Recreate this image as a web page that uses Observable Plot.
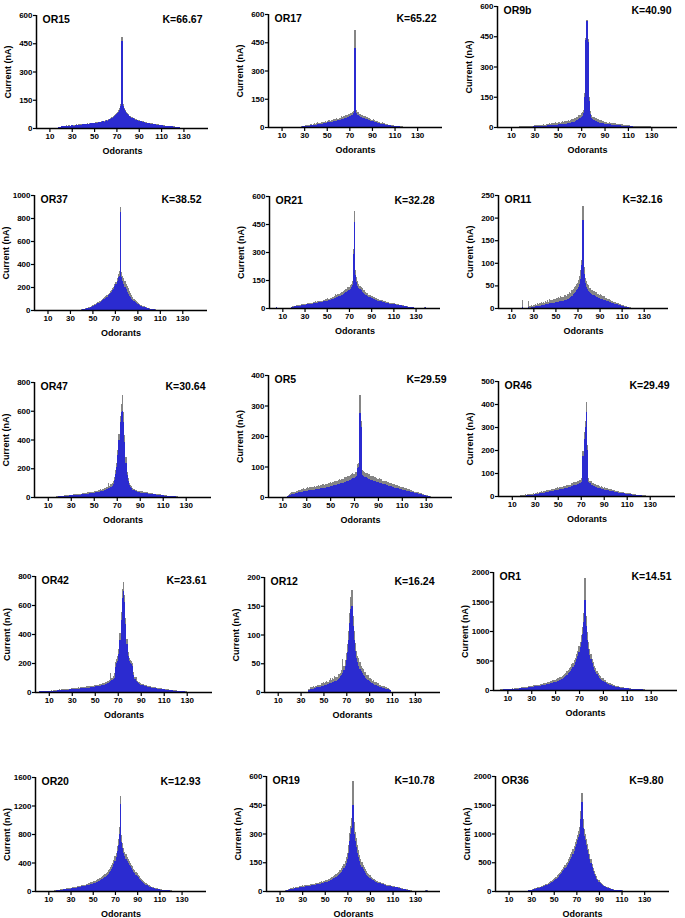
<!DOCTYPE html>
<html><head><meta charset="utf-8">
<script src="https://cdn.jsdelivr.net/npm/d3@7"></script>
<script src="https://cdn.jsdelivr.net/npm/@observablehq/plot@0.6"></script>
<style>
html,body{margin:0;padding:0;background:#fff;overflow:hidden}
#root{position:relative;width:685px;height:918px;overflow:hidden}
</style></head><body><div id="root"></div>
<script>
// ---------- labels ----------
const receptors = ["OR15","OR17","OR9b","OR37","OR21","OR11","OR47","OR5","OR46","OR42","OR12","OR1","OR20","OR19","OR36"];
const kValues = ["66.67","65.22","40.90","38.52","32.28","32.16","30.64","29.59","29.49","23.61","16.24","14.51","12.93","10.78","9.80"];
const yMax = [600,600,600,1000,600,250,800,400,500,800,200,2000,1600,600,2000];
const yTicks = [
  [0,150,300,450,600],[0,150,300,450,600],[0,150,300,450,600],
  [0,200,400,600,800,1000],[0,150,300,450,600],[0,50,100,150,200,250],
  [0,200,400,600,800],[0,100,200,300,400],[0,100,200,300,400,500],
  [0,200,400,600,800],[0,50,100,150,200],[0,500,1000,1500,2000],
  [0,400,800,1200,1600],[0,150,300,450,600],[0,500,1000,1500,2000]
];
const xTicks = [10,30,50,70,90,110,130];

// ---------- data: mean response (nA) and SEM per odorant rank, starting at odorant "start" ----------
const or15Start = 18;
const or15Mean = [3,4,6,8,10,9,11,12,11,12, 13,12,14,14,13,15,16,15,17,16, 18,17,19,20,19,21,22,21,23,24, 24,26,25,27,28,27,30,31,30,33, 35,34,37,40,39,43,46,49,53,57, 62,67,73,80,87,97,116, 460, 118,101,90,81,74,67,62,58,54,51, 48,45,43,40,39,36,35,33,32,30, 29,28,26,26,24,23,22,21,20,19, 18,17,17,15,15,14,13,13,12,11, 11,10,9,9,8,7,7,6,5,4,3];
const or15Sem = [1,1,1,2,2,1,2,2,1,2, 2,1,2,3,2,2,3,2,2,3, 2,3,2,2,3,2,3,2,3,2, 3,2,3,3,2,3,3,2,3,3, 3,4,3,4,3,4,4,5,4,5, 5,5,6,6,7,7,9, 25, 8,7,6,6,5,5,4,5,4,4, 4,3,4,3,3,4,3,3,3,2, 3,3,2,3,2,2,3,2,2,2, 2,2,2,1,2,2,1,2,1,1, 1,1,1,1,1,1,1,1,1,1,1];

const or17Start = 28;
const or17Mean = [2,3,4,4,5,6,6,7,8,9, 10,11,12,13,14,15,16,17,18,19, 20,21,22,24,25,26,27,28,30,31, 33,34,36,37,39,41,43,45,47,49, 51,54,56,59,62,66,75, 420, 72,66,62,58,55,52,49,46,44,42, 40,38,36,34,32,30,28,26,25,23, 21,20,18,17,15,14,13,11,10,9, 8,7,6,6,5,4,4,3,3,2,2,2,1];
const or17Sem = [2,3,2,4,3,5,3,4,6,4, 5,8,4,6,10,5,7,12,6,9, 8,11,6,9,13,7,10,8,12,9, 10,14,8,12,9,15,11,13,10,16, 12,15,11,14,13,16,12, 95, 18,14,16,12,15,11,13,10,12,9, 11,8,10,9,7,10,8,6,9,7, 6,8,5,7,5,6,4,5,4,3, 4,3,3,4,2,3,2,3,2,2,1,2,1];

const or9bStart = 17;
const or9bMean = [1,1,2,1,2,2,1,2,2,2, 2,2,3,4,4,5,5,5,6,6, 6,7,7,7,8,8,9,9,10,10, 11,11,12,12,13,13,14,14,15,16, 17,18,19,20,22,23,25,27,30,33, 36,40,44,48,55,68,150,430, 525, 420,130,62,45,38,34,30,28,26,24, 22,21,19,18,17,16,15,14,13,13, 12,12,11,10,10,9,9,8,8,7, 7,6,6,5,5,4,4,3,3,2, 2,2,2,1,2,1,1,2,1,1,1,1,1,1,1];
const or9bSem = [3,4,2,5,3,4,3,5,4,3, 4,5,3,5,4,6,5,7,4,6, 6,8,5,9,7,6,10,7,8,11, 9,12,8,10,13,9,11,14,10,12, 13,11,15,12,14,16,13,17,15,18, 16,19,17,20,18,15,20,10, 8, 15,20,18,16,14,17,13,15,12,14, 11,13,10,12,9,11,10,8,10,9, 8,9,7,8,6,8,7,5,7,6, 5,6,4,5,4,5,3,4,3,4, 3,4,3,4,2,3,4,2,3,3,2,3,2,2,1];

const or37Start = 40;
const or37Mean = [3,5,7,9,11,14,17,20,24,28, 33,37,42,47,52,58,64,70,77,84, 92,100,108,117,127,137,148,160,172,186, 205,225,250,285,300, 850, 290,255,225,200,180,160,142,126,112,100, 88,78,69,61,54,48,42,37,33,29, 25,22,19,16,14,12,10,8,7,5, 4,3,2];
const or37Sem = [2,3,3,4,3,5,4,6,5,6, 7,6,8,7,9,8,10,9,11,10, 12,11,13,12,15,14,16,15,18,17, 20,22,25,30,35, 45, 40,45,50,55,48,52,45,40,35,30, 25,22,18,15,14,12,10,9,8,7, 6,5,5,4,4,3,3,2,2,2, 1,1,1];

const or21Start = 5;
const or21Mean = [3,0,0,0,0,0,0,0,0,0,0,0,0, 4,6,8,9,10,11,12,12,13,14, 15,16,17,18,19,20,21,22,23,24, 25,26,27,28,29,30,31,32,33,35, 36,37,39,40,42,44,46,48,50,52, 55,57,60,63,66,69,72,76,80,84, 88,93,98,104,112,125,290, 460, 175,140,120,108,100,94,88,82,77,72, 68,64,60,57,54,51,48,46,44,42, 40,38,37,35,34,32,31,29,28,26, 25,24,23,22,21,20,19,18,17,16, 15,14,13,12,11,10,9,8,7,6,5,4,3, 0,0,0,0,0,0,0,0,0,2,3,0];
const or21Sem = [1,0,0,0,0,0,0,0,0,0,0,0,0, 2,3,2,4,3,3,5,3,4,6, 4,5,3,6,4,7,5,4,6,5, 6,5,8,6,7,9,6,8,7,10, 8,10,9,12,8,11,10,13,9,12, 22,11,14,10,13,15,12,16,14,17, 15,18,16,20,18,22,25, 60, 30,25,22,20,18,16,19,15,17,14, 13,15,12,14,11,13,10,12,10,11, 9,10,8,9,7,8,7,8,6,7, 6,5,6,5,4,5,4,4,3,4, 3,3,2,3,2,2,2,2,1,1,1,1,1, 0,0,0,0,0,0,0,0,0,1,1,0];

const or11Start = 20;
const or11Mean = [2,0,0,0,0,0,2,1,2,2, 3,3,4,4,5,5,5,6,6,7, 7,8,8,9,9,10,10,11,11,12, 13,13,14,14,15,15,16,16,17,18, 18,19,21,23,25,27,30,33,36,39, 42,46,52,65,95, 195, 75,55,46,41,38,35,33,31,29,28, 26,25,24,23,22,21,20,19,18,17, 16,15,15,14,13,12,11,10,9,8, 8,7,6,6,5,4,4,3,3,2,2,1,1];
const or11Sem = [16,0,0,0,0,0,13,3,4,3, 3,4,5,3,6,4,5,7,4,6, 5,7,6,8,5,9,7,6,10,8, 7,9,8,10,7,11,9,8,12,10, 9,11,10,12,9,13,11,14,12,15, 13,15,18,20,12, 30, 15,12,14,11,13,10,12,9,11,10, 9,10,8,9,7,9,8,7,8,6, 7,6,5,6,5,4,5,4,4,3, 3,3,2,3,2,2,2,1,2,1,1,1,1];

const or47Start = 18;
const or47Mean = [3,4,5,6,6,7,8,8,9,10, 10,11,12,12,13,14,14,15,16,17, 17,18,19,20,21,22,23,24,25,26, 27,28,29,31,32,34,36,38,40,42, 44,47,50,54,58,62,66,72,80,92, 115,160,210,290,400,520,590, 600, 520,380,240,150,110,85,70,60,52,46, 42,39,37,35,33,31,30,29,28,27, 26,25,24,23,22,21,20,19,18,17, 16,15,14,13,12,11,10,9,8,8, 7,6,6,5,4,4,3,3,2,2];
const or47Sem = [1,2,2,3,2,3,2,3,4,3, 4,3,5,4,6,4,5,7,5,6, 6,5,7,6,8,7,6,9,7,8, 8,10,7,9,11,8,12,9,13,10, 12,14,11,15,13,35,14,18,16,20, 22,25,30,35,40,45,60, 110, 70,50,35,25,20,15,12,14,10,12, 9,11,8,10,7,9,14,8,7,8, 6,7,5,6,5,6,4,5,4,5, 4,3,4,3,3,2,3,2,2,2, 2,2,1,2,1,1,1,1,1,1];

const or5Start = 14;
const or5Mean = [2,4,6,8,9,10,11,12,13,14, 15,16,17,18,19,20,20,21,22,22, 23,23,24,24,25,26,26,27,28,29, 29,30,31,32,33,34,35,36,37,38, 39,40,41,42,43,45,46,47,49,50, 52,53,55,57,59,61,63,65,68,95,100, 275, 230,72,68,66,64,62,60,58,57,55, 54,52,51,50,48,47,46,45,43,42, 41,40,39,37,36,35,34,32,31,30, 29,28,27,26,25,24,23,22,21,20, 19,18,17,16,15,14,13,12,11,10, 9,8,7,6,5,4,3,2,1];
const or5Sem = [2,3,4,5,6,5,7,6,8,7, 8,7,9,8,10,7,9,11,8,10, 9,11,8,12,9,10,13,9,11,10, 12,10,13,11,9,12,14,10,13,11, 12,14,11,13,15,12,14,13,16,14, 13,15,14,16,15,17,14,16,15,12,10, 60, 20,18,16,17,15,18,14,16,13,15, 14,12,15,13,11,14,12,13,10,12, 11,13,10,12,9,11,10,9,11,8, 10,8,9,7,9,8,6,8,7,6, 7,5,6,5,6,4,5,4,5,3, 4,3,3,2,2,2,1,1,1];

const or46Start = 18;
const or46Mean = [1,1,2,2,2,3,3,3,4,4, 5,6,7,8,9,10,11,12,13,14, 15,16,17,18,19,20,21,22,23,24, 25,26,27,28,29,30,31,32,33,34, 35,37,38,40,42,44,46,48,50,52, 54,56,58,62,175,250,300, 365, 200,62,55,50,47,44,42,40,38,36, 34,33,31,30,29,28,26,25,24,23, 22,21,20,19,18,17,16,15,14,13, 12,12,11,10,9,9,8,7,7,6, 6,5,5,4,4,3,3,3,2,2,2,1,1,1,1];
const or46Sem = [4,5,3,4,5,3,4,6,3,5, 4,6,3,5,7,4,6,5,8,5, 7,5,8,6,9,7,6,10,7,8, 9,7,10,8,11,9,8,12,9,10, 11,9,12,10,13,11,14,12,10,13, 12,14,13,15,20,30,25, 45, 22,15,12,14,11,13,10,12,9,11, 10,8,11,9,7,10,8,9,7,8, 7,8,6,7,5,6,5,6,4,5, 4,5,4,3,4,3,3,4,2,3, 3,2,3,2,2,3,2,2,1,2,1,1,1,1,1];

const or42Start = 2;
const or42Mean = [4,5,4,5,6,5,6,6,7,7, 8,8,9,9,10,10,11,12,12,13, 14,14,15,16,16,17,18,18,19,20, 21,21,22,23,24,24,25,26,27,28, 28,29,30,31,32,33,34,35,36,38, 39,40,42,44,46,48,50,53,56,60, 64,68,74,80,88,100,175,200,215,260, 360,500,650, 700, 620,470,330,250,215,200,190,180,120,90, 75,66,60,55,51,48,45,42,40,38, 36,34,32,30,29,28,27,26,25,24, 23,22,21,20,19,18,17,16,15,14, 13,12,11,10,9,9,8,7,6,5, 5,4,4,3,3,2,2,1,1,1];
const or42Sem = [3,2,4,2,3,2,4,3,2,3, 3,2,4,3,5,3,4,6,3,5, 4,6,4,5,8,5,6,4,7,5, 6,5,7,6,8,6,7,9,6,8, 7,9,8,10,7,11,9,8,12,10, 11,9,13,10,12,14,11,15,13,16, 15,18,60,20,25,30,35,25,30,40, 45,55,60, 60, 50,40,35,25,20,18,22,20,15,12, 30,10,9,12,8,10,7,9,8,7, 8,6,7,5,6,7,5,6,5,4, 5,4,5,3,4,5,3,4,3,3, 4,3,2,3,2,3,2,2,2,1, 2,1,2,1,1,1,1,1,1,1];

const or12Start = 37;
const or12Mean = [3,4,5,6,6,7,7,8,8,9, 9,10,11,11,12,13,13,14,15,15, 16,17,18,19,20,21,23,25,27,30, 33,38,45,55,70,90,120,145, 150, 115,90,72,60,52,45,40,36,33,30, 28,25,23,21,19,18,16,15,14,13, 12,11,10,9,9,8,7,7,6,6,5,5,4,3];
const or12Sem = [3,2,4,3,5,2,4,3,5,4, 3,5,4,6,3,5,7,4,6,9, 5,7,4,8,6,5,9,7,6,8, 25,8,10,12,14,16,18,20, 28, 18,16,14,12,10,15,12,10,8,10, 7,9,6,8,5,7,6,5,7,4, 5,4,6,3,4,3,4,3,2,3,2,2,2,1];

const or1Start = 3;
const or1Mean = [5,6,7,8,9,10,11,12,13,14, 15,16,17,18,20,22,24,26,28,30, 32,34,36,39,42,45,48,52,55,58, 60,63,66,69,72,76,80,84,88,92, 97,102,107,112,118,124,130,137,144,152, 160,170,180,192,205,220,238,258,280,305, 330,360,395,430,470,520,580,650,730,820, 950,1150, 1520, 1080,850,700,600,520,450,390,340,300,265, 235,210,190,170,155,140,128,117,107,98, 90,83,76,70,64,59,54,50,46,42, 39,36,33,30,28,26,24,22,20,18, 17,15,14,13,12,11,10,9,8,7, 6,6,5,5,4,4,3,3,2,2,1];
const or1Sem = [3,4,5,4,6,5,7,6,8,7, 8,10,7,11,9,12,10,13,11,14, 12,15,13,16,14,18,15,19,17,20, 18,22,19,24,20,26,22,28,24,30, 26,32,28,35,30,38,33,40,36,44, 40,48,43,52,46,56,50,62,55,68, 60,75,66,82,72,90,80,100,90,110, 120,150, 380, 180,140,120,100,90,75,80,60,70,50, 55,42,48,35,40,30,34,26,28,22, 24,18,20,15,17,13,14,11,12,10, 9,10,8,9,7,8,6,7,5,6, 5,4,5,3,4,3,3,2,3,2, 2,2,1,2,1,1,1,1,1,1,1];

const or20Start = 15;
const or20Mean = [3,5,8,10,13,15,17,19,21,23, 25,27,29,31,33,35,37,40,43,46, 49,52,55,58,61,64,67,70,74,78, 82,86,90,95,100,105,111,117,124,131, 138,146,155,165,175,186,198,212,228,245, 265,285,310,340,375,420,480,560,650,800, 1220, 690,600,540,490,450,420,395,370,345,320, 295,270,250,230,210,190,172,155,140,126, 113,101,90,80,71,63,56,50,45,40, 36,32,29,26,23,20,18,16,14,12, 11,10,9,8,7,6,5,4,4,3,2,2];
const or20Sem = [2,3,4,5,4,6,5,7,6,8, 7,9,8,10,9,11,10,12,11,14, 12,15,13,16,14,18,15,19,17,21, 18,22,20,25,22,27,24,30,26,32, 28,35,30,38,33,42,36,46,40,50, 45,55,50,60,55,65,60,70,80,100, 110, 90,80,70,60,65,55,60,50,55,45, 50,42,46,38,42,34,37,30,33,26, 28,22,24,18,20,15,16,12,13,10, 10,8,9,7,7,6,5,5,4,4, 3,3,3,2,2,2,2,1,1,1,1,1];

const or19Start = 15;
const or19Mean = [2,3,4,6,8,10,12,13,14,15, 16,17,18,19,20,21,22,23,24,25, 26,27,28,29,30,31,32,33,34,35, 37,38,40,41,43,45,47,49,51,54, 57,60,63,66,70,74,78,83,88,94, 100,108,118,130,145,165,200,260,300,330, 450, 300,260,230,200,175,155,138,125,113,103, 94,86,79,73,68,63,59,55,52,49, 46,44,42,40,38,36,34,32,30,28, 27,26,25,24,23,22,21,20,19,18, 16,15,13,12,10,9,7,6,4,3, 2,2,1,1,0,0,0,0,0,0,0,0,0,2,3,2];
const or19Sem = [2,3,2,4,3,5,4,6,3,5, 4,6,5,7,4,8,5,6,9,5, 7,6,8,5,9,7,6,10,7,8, 9,7,10,8,11,9,12,10,13,11, 12,15,11,14,13,16,18,14,20,17, 22,20,25,28,30,35,40,45,40,50, 125, 60,50,45,40,38,35,30,28,25,22, 20,18,16,15,13,12,11,10,9,9, 8,9,7,8,6,7,6,5,6,5, 5,4,5,4,4,3,4,3,3,3, 3,2,3,2,2,2,1,2,1,1, 1,1,1,1,0,0,0,0,0,0,0,0,0,1,1,1];

const or36Start = 28;
const or36Mean = [10,15,20,25,30,35,40,45,50,56, 62,68,75,82,90,98,107,117,128,140, 152,165,180,195,212,230,250,270,292,315, 340,365,392,420,450,485,520,560,600,650, 700,760,820,880,940,1000,1250, 1550, 1100,960,880,800,720,640,560,480,410,350, 300,255,215,185,160,140,122,106,92,80, 70,61,53,46,40,35,30,26,22,19, 16,14,12,10,9,8,7,6,5,4,3,2];
const or36Sem = [5,8,6,10,8,12,9,14,11,15, 13,18,15,20,17,24,20,27,23,30, 27,34,30,38,34,42,38,48,42,54, 48,60,52,66,58,72,64,80,70,88, 78,95,85,100,110,120,140, 160, 150,120,110,100,95,85,80,70,60,55, 48,42,38,32,28,25,22,19,16,14, 12,11,9,8,7,6,5,5,4,3, 3,3,2,2,2,1,1,1,1,1,1,1];

const series = [
  [or15Start, or15Mean, or15Sem], [or17Start, or17Mean, or17Sem], [or9bStart, or9bMean, or9bSem],
  [or37Start, or37Mean, or37Sem], [or21Start, or21Mean, or21Sem], [or11Start, or11Mean, or11Sem],
  [or47Start, or47Mean, or47Sem], [or5Start, or5Mean, or5Sem], [or46Start, or46Mean, or46Sem],
  [or42Start, or42Mean, or42Sem], [or12Start, or12Mean, or12Sem], [or1Start, or1Mean, or1Sem],
  [or20Start, or20Mean, or20Sem], [or19Start, or19Mean, or19Sem], [or36Start, or36Mean, or36Sem]
];

// ---------- layout (page pixels): y-axis x, x-axis end, frame top, frame bottom ----------
const layout = [
  [36,208,15,128],[268,442,14,127],[497,677,6,127],
  [34,207,195,310],[269,440,196,308],[498,668,195,308],
  [34,211,382,497],[268,452,375,497],[498,675,381,496],
  [35,212,576,692],[264,440,577,692],[493,677,572,690],
  [35,206,777,891],[266,440,776,891],[495,669,776,891]
];

const BLUE = "#2b2bd0", GRAY = "#858585";
const M = {left: 40, right: 6, top: 8, bottom: 28};
const root = document.getElementById("root");

receptors.forEach((name, i) => {
  const [start, mean, sem] = series[i];
  const rows = mean.map((v, j) => ({x: start + j, v, hi: v + (sem[j] || 0)}));
  const [ax, aend, top, bottom] = layout[i];
  const w = aend - ax, h = bottom - top;
  const chart = Plot.plot({
    width: M.left + w + M.right,
    height: M.top + h + M.bottom,
    marginLeft: M.left, marginRight: M.right, marginTop: M.top, marginBottom: M.bottom,
    style: {fontFamily: "'Liberation Sans', Arial, sans-serif", fontSize: "8px", fontWeight: "bold", background: "transparent", color: "#000", overflow: "visible"},
    x: {domain: [-2, 152]},
    y: {domain: [0, yMax[i]]},
    marks: [
      Plot.rect(rows, {x1: r => r.x - 0.5, x2: r => r.x + 0.5, y1: 0, y2: "hi", fill: GRAY, inset: 0, shapeRendering: "crispEdges"}),
      Plot.rect(rows, {x1: r => r.x - 0.5, x2: r => r.x + 0.5, y1: 0, y2: "v", fill: BLUE, inset: 0, shapeRendering: "crispEdges"}),
      Plot.ruleY([0], {stroke: "#000", strokeWidth: 1.5}),
      Plot.ruleX([-2], {stroke: "#000", strokeWidth: 1.5}),
      Plot.axisX({ticks: xTicks, tickSize: 4, tickPadding: 1, label: null, strokeWidth: 1.2, tickFormat: d => String(d)}),
      Plot.axisY({ticks: yTicks[i], tickSize: 3, tickPadding: 1, label: null, strokeWidth: 1.2, tickFormat: d => String(d)}),
      Plot.text([name], {frameAnchor: "top-left", dx: 6, fontSize: 10.5, fontWeight: "bold", fill: "#000"}),
      Plot.text(["K=" + kValues[i]], {frameAnchor: "top-right", dx: -6, fontSize: 10.5, fontWeight: "bold", fill: "#000"}),
      Plot.text(["Odorants"], {frameAnchor: "bottom", lineAnchor: "middle", dy: 23, fontSize: 9, fontWeight: "bold", fill: "#000"}),
      Plot.text(["Current (nA)"], {frameAnchor: "left", textAnchor: "middle", lineAnchor: "middle", dx: -28, rotate: -90, fontSize: 9, fontWeight: "bold", fill: "#000"})
    ]
  });
  chart.style.position = "absolute";
  chart.style.left = (ax - M.left) + "px";
  chart.style.top = (top - M.top) + "px";
  root.appendChild(chart);
});
</script>
</body></html>
